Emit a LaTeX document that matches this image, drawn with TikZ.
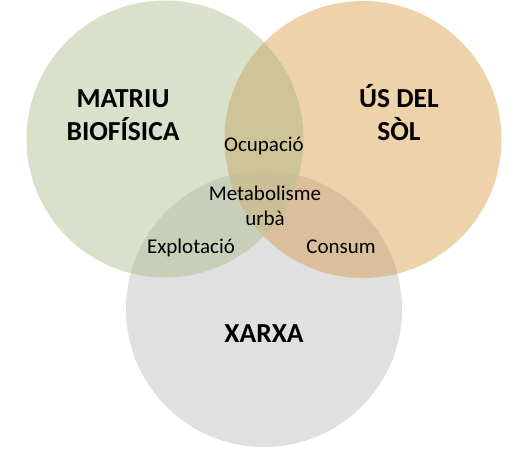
\documentclass[tikz,border=0pt]{standalone}
\usepackage{fontspec}
\setmainfont{Carlito}
\definecolor{cG}{RGB}{217,225,202}
\definecolor{cO}{RGB}{238,210,170}
\definecolor{cX}{RGB}{224,224,224}
\definecolor{cGO}{RGB}{207,196,151}
\definecolor{cGX}{RGB}{199,207,185}
\definecolor{cOX}{RGB}{219,190,155}
\definecolor{cGOX}{RGB}{202,191,151}
\tikzset{
  big/.style={font=\fontsize{27.5}{33}\selectfont\bfseries, anchor=base, inner sep=0pt},
  small/.style={font=\fontsize{21}{25}\selectfont, anchor=base, inner sep=0pt}
}
\begin{document}
\begin{tikzpicture}[x=1pt,y=-1pt]
\useasboundingbox (0,0) rectangle (513,448);
\def\gc{(165,139) circle (138.5)}
\def\oc{(363,139.5) circle (138.5)}
\def\xc{(264,309) circle (138)}
\fill[cG] \gc;
\fill[cO] \oc;
\fill[cX] \xc;
\begin{scope}\clip \gc; \fill[cGO] \oc; \end{scope}
\begin{scope}\clip \gc; \fill[cGX] \xc; \end{scope}
\begin{scope}\clip \oc; \fill[cOX] \xc; \end{scope}
\begin{scope}\clip \gc; \clip \oc; \fill[cGOX] \xc; \end{scope}
\node[big] (m1) at (123,107.3) {MATRIU};
\node[big] (m2) at (123,140.7) {BIOFÍSICA};
\node[big] (u1) at (399,107.3) {ÚS DEL};
\node[big] (u2) at (399,140.7) {SÒL};
\node[big] (x1) at (264,342.7) {XARXA};
\node[small] (oc) at (264,151.5) {Ocupació};
\node[small] (me) at (265,200) {Metabolisme};
\node[small] (ur) at (265,225) {urbà};
\node[small] (ex) at (191,253) {Explotació};
\node[small] (co) at (341,253) {Consum};
\end{tikzpicture}
\end{document}
